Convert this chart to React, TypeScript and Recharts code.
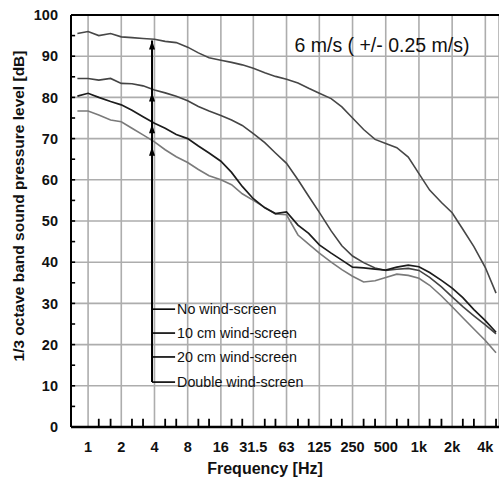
import { LineChart, Line, XAxis, YAxis, CartesianGrid, ReferenceLine, ReferenceDot } from "recharts";

// 1/3 octave band centre frequencies [Hz]
const FREQS = [0.8, 1, 1.25, 1.6, 2, 2.5, 3.15, 4, 5, 6.3, 8, 10, 12.5, 16, 20, 25, 31.5, 40, 50, 63, 80, 100, 125, 160, 200, 250, 315, 400, 500, 630, 800, 1000, 1250, 1600, 2000, 2500, 3150, 4000, 5000];

// band levels [dB] for each wind-screen setup
const NO_SCREEN = [95.5, 96, 95, 95.5, 94.7, 94.5, 94.3, 94.1, 93.6, 93.3, 92.2, 90.8, 89.6, 89, 88.5, 87.9, 87.1, 86, 85.1, 84.4, 83.5, 82.2, 81, 79.7, 77.7, 75, 72.2, 69.8, 68.8, 67.8, 65.5, 61.5, 57.5, 54.5, 52, 48, 43.8, 38.7, 32.5];
const SCREEN_10CM = [84.6, 84.6, 84.2, 84.6, 83.4, 83.3, 82.8, 81.8, 81.1, 80.3, 79.2, 77.8, 76.7, 75.6, 74.5, 73.2, 71.2, 69, 66.5, 64, 60, 56, 52.1, 47.6, 44, 41.5, 39.9, 38.6, 38, 38.3, 38.5, 38, 36.3, 34, 31.6, 29.2, 27, 24.8, 22.6];
const SCREEN_20CM = [80.3, 81, 80, 79, 78.2, 76.9, 75.3, 73.7, 72.5, 71, 70, 68.2, 66.5, 64.5, 61.8, 58.4, 55.4, 53.2, 51.8, 52.2, 49, 47, 44.2, 42.2, 40.5, 38.8, 38.6, 38.3, 38.1, 38.8, 39.3, 38.9, 37.5, 35.6, 33.7, 31.4, 28.5, 25.8, 23];
const DOUBLE_SCREEN = [76.7, 76.7, 75.7, 74.5, 74.1, 72.5, 70.9, 69.2, 67.3, 65.6, 64.2, 62.5, 61, 60, 58.8, 56.6, 55, 53.3, 51.7, 51.5, 46.6, 44.4, 42.2, 40, 38.2, 36.6, 35.2, 35.5, 36.3, 37.1, 36.8, 36.1, 34.4, 31.8, 29.2, 26.5, 23.8, 21, 18];

const MAJOR_TICKS = [1, 2, 4, 8, 16, 31.5, 63, 125, 250, 500, 1000, 2000, 4000];
const MAJOR_LABELS = ["1", "2", "4", "8", "16", "31.5", "63", "125", "250", "500", "1k", "2k", "4k"];
const MINOR_TICKS = [1.25, 1.6, 2.5, 3.15, 5, 6.3, 10, 12.5, 20, 25, 40, 50, 80, 100, 160, 200, 315, 400, 630, 800, 1250, 1600, 2500, 3150, 5000];
const Y_TICKS = [0, 10, 20, 30, 40, 50, 60, 70, 80, 90, 100];
const Y_MINOR = [5, 10, 15, 20, 25, 30, 35, 40, 45, 50, 55, 60, 65, 70, 75, 80, 85, 90, 95];

const LEGEND_LABELS = ["No wind-screen", "10 cm wind-screen", "20 cm wind-screen", "Double wind-screen"];
const LEGEND_LEVELS = [28.6, 22.8, 17, 10.9];
const ARROW_TIPS = [93.8, 81.2, 73.5, 68];
const TITLE = "6 m/s ( +/- 0.25 m/s)";

const X_MIN = 0.7;
const X_MAX = 5320;
const ARROW_F = 3.8;
const STUB_F = 6.15;
const FONT = '"Liberation Sans", Arial, Helvetica, sans-serif';

const data = FREQS.map((f, i) => ({
  f,
  none: NO_SCREEN[i],
  cm10: SCREEN_10CM[i],
  cm20: SCREEN_20CM[i],
  dbl: DOUBLE_SCREEN[i],
}));

const tickStyle = { fill: "#111", fontSize: 14.5, fontWeight: 700, fontFamily: FONT };

export default function App() {
  return (
    <div style={{ position: "absolute", left: 0, top: 0, background: "#fff" }}>
      <LineChart width={499} height={478} data={data} margin={{ top: 15, right: 0, bottom: 0, left: 0 }}>
        <CartesianGrid stroke="#adadad" strokeWidth={1.6} />
        <XAxis
          dataKey="f"
          type="number"
          scale="log"
          domain={[X_MIN, X_MAX]}
          allowDataOverflow
          ticks={MAJOR_TICKS}
          interval={0}
          tickFormatter={(v) => MAJOR_LABELS[MAJOR_TICKS.indexOf(v)]}
          tickLine={false}
          tickSize={0}
          tickMargin={15}
          height={51}
          axisLine={{ stroke: "#000", strokeWidth: 2.5 }}
          tick={tickStyle}
          label={{
            value: "Frequency [Hz]",
            position: "insideBottom",
            offset: 4,
            dx: -20,
            fill: "#111",
            fontSize: 16,
            fontWeight: 700,
            fontFamily: FONT,
          }}
        />
        <YAxis
          type="number"
          domain={[0, 100]}
          ticks={Y_TICKS}
          interval={0}
          width={71}
          tickLine={false}
          tickSize={0}
          tickMargin={13}
          axisLine={{ stroke: "#000", strokeWidth: 2 }}
          tick={tickStyle}
          label={{
            value: "1/3 octave band sound pressure level [dB]",
            angle: -90,
            position: "center",
            dx: -17.5,
            dy: -15,
            fill: "#111",
            fontSize: 15.5,
            fontWeight: 700,
            fontFamily: FONT,
          }}
        />

        {/* frame top and inside minor ticks */}
        <ReferenceLine y={100} stroke="#000" strokeWidth={1.8} />
        {MINOR_TICKS.map((f) => (
          <ReferenceLine key={`xt-${f}`} segment={[{ x: f, y: 0 }, { x: f, y: 2 }]} stroke="#000" strokeWidth={1.8} />
        ))}
        {Y_MINOR.map((v) => (
          <ReferenceLine key={`yt-${v}`} segment={[{ x: X_MIN, y: v }, { x: X_MIN * 1.09, y: v }]} stroke="#000" strokeWidth={1.6} />
        ))}

        <Line dataKey="dbl" stroke="#7a7a7a" strokeWidth={1.6} dot={false} isAnimationActive={false} />
        <Line dataKey="cm10" stroke="#444" strokeWidth={1.6} dot={false} isAnimationActive={false} />
        <Line dataKey="none" stroke="#474747" strokeWidth={1.6} dot={false} isAnimationActive={false} />
        <Line dataKey="cm20" stroke="#1c1c1c" strokeWidth={1.7} dot={false} isAnimationActive={false} />

        {/* arrow legend */}
        <ReferenceLine
          segment={[{ x: ARROW_F, y: LEGEND_LEVELS[3] }, { x: ARROW_F, y: ARROW_TIPS[0] }]}
          stroke="#000"
          strokeWidth={2}
        />
        {ARROW_TIPS.map((t) => (
          <ReferenceDot
            key={`ah-${t}`}
            x={ARROW_F}
            y={t}
            r={0}
            shape={(p: any) => (
              <polygon points={`${p.cx},${p.cy} ${p.cx - 3},${p.cy + 9} ${p.cx + 3},${p.cy + 9}`} fill="#000" />
            )}
          />
        ))}
        {LEGEND_LEVELS.map((lvl, i) => (
          <ReferenceLine key={`ls-${i}`} segment={[{ x: ARROW_F, y: lvl }, { x: STUB_F, y: lvl }]} stroke="#000" strokeWidth={1.6} />
        ))}
        {LEGEND_LEVELS.map((lvl, i) => (
          <ReferenceDot
            key={`lt-${i}`}
            x={STUB_F}
            y={lvl}
            r={0}
            shape={(p: any) => (
              <text x={p.cx + 2} y={p.cy} dominantBaseline="central" fill="#111" fontSize={14.3} fontFamily={FONT}>
                {LEGEND_LABELS[i]}
              </text>
            )}
          />
        ))}

        <ReferenceDot
          x={462}
          y={92.7}
          r={0}
          shape={(p: any) => (
            <text x={p.cx} y={p.cy} textAnchor="middle" dominantBaseline="central" fill="#111" fontSize={19.5} fontFamily={FONT}>
              {TITLE}
            </text>
          )}
        />
      </LineChart>
    </div>
  );
}
